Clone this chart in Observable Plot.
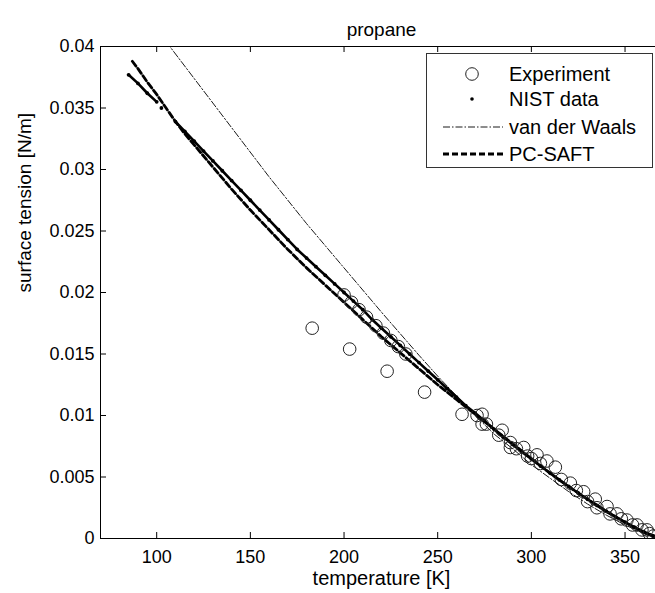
<!DOCTYPE html>
<html><head><meta charset="utf-8">
<script src="https://cdn.jsdelivr.net/npm/d3@7"></script>
<script src="https://cdn.jsdelivr.net/npm/@observablehq/plot@0.6"></script>
<style>
body{margin:0;background:#fff}
#c{position:relative;width:655px;height:593px;overflow:hidden;font-family:"Liberation Sans",Arial,sans-serif;background:#fff}
#legend{position:absolute;left:426px;top:53px;width:227px;height:115px;border:1px solid #333;background:#fff;box-sizing:border-box}
</style>
</head><body><div id="c"></div>
<script>
const chartTitle = "propane";
const xLabel = "temperature [K]";
const yLabel = "surface tension [N/m]";
const xTicks = [100,150,200,250,300,350];
const yTicks = [0,0.005,0.01,0.015,0.02,0.025,0.03,0.035,0.04];
const yTickLabels = ["0","0.005","0.01","0.015","0.02","0.025","0.03","0.035","0.04"];
const legendNames = ["Experiment","NIST data","van der Waals","PC-SAFT"];

// NIST data (segment id marks the gaps in the dotted curve)
const nistT = [85,90,95,100,102.5,110,115,120,125,130,135,140,145,150,155,160,165,170,175,180,185,190,195,200,205,210,215,220,225,230,235,240,245,250,255,260,265,270,275,280,285,290,295,300,305,310,315,320,325,330,335,340,345,350,355,360,365,369];
const nistS = [0.0377,0.0370,0.0362,0.0355,0.0350,0.0339,0.0331,0.0323,0.0315,0.0307,0.0299,0.0291,0.0283,0.0275,0.0267,0.0259,0.0251,0.0243,0.0235,0.0228,0.0221,0.0214,0.0207,0.0200,0.0193,0.0186,0.0178,0.0171,0.0164,0.0157,0.0150,0.0143,0.0136,0.0129,0.0122,0.0115,0.0108,0.0102,0.00955,0.0089,0.00824,0.00764,0.00704,0.00646,0.00588,0.00532,0.00476,0.00423,0.00370,0.00319,0.00269,0.00222,0.00176,0.00133,0.00092,0.00055,0.00022,0.00002];
const nistSeg = [1,1,1,1,2,3,3,3,3,3,3,3,3,3,3,3,3,3,3,3,3,3,3,3,3,3,3,3,3,3,3,3,3,3,3,3,3,3,3,3,3,3,3,3,3,3,3,3,3,3,3,3,3,3,3,3,3,3];

// van der Waals model
const vdwT = [105,120,140,160,180,200,220,240,250,260,270,280,290,300,310,320,330,340,350,360,366];
const vdwS = [0.0404,0.0374,0.0334,0.0294,0.0256,0.0220,0.0184,0.0149,0.0132,0.0116,0.0100,0.0085,0.0073,0.0060,0.0049,0.0038,0.0028,0.0019,0.0011,0.0004,0.0000];

// PC-SAFT model
const pcT = [87,90,95,100,105,110,115,120,130,140,150,160,170,180,190,200,210,220,230,240,250,260,270,280,290,300,310,320,330,340,350,360,365,369];
const pcS = [0.0388,0.0382,0.0371,0.0361,0.0350,0.0339,0.0329,0.0320,0.0302,0.0284,0.0267,0.0251,0.0235,0.0220,0.0206,0.0192,0.0178,0.0164,0.0151,0.0138,0.0125,0.0113,0.0101,0.0089,0.0077,0.0065,0.0053,0.0042,0.0032,0.0022,0.0013,0.0005,0.0002,0.0000];

// Experiment
const expT = [183,203,223,243,263,200,204,208,212,217,221,225,229,233,271,273.7,273.7,276,282.6,284.4,288.8,288.8,292,295.9,298,300,303,304.8,308.3,312.8,316,320.8,324,327.9,330,334.1,335,340.4,342,345.7,348,351,354,356.4,359,361.7,363,365.1];
const expS = [0.0171,0.0154,0.0136,0.0119,0.0101,0.0198,0.0192,0.0186,0.0180,0.0173,0.0167,0.0161,0.0156,0.0150,0.0100,0.0101,0.0093,0.0093,0.0084,0.0088,0.0078,0.0074,0.0073,0.0074,0.0067,0.0065,0.0068,0.0061,0.0063,0.0058,0.0048,0.0045,0.0039,0.0038,0.0030,0.0032,0.0025,0.0026,0.0020,0.0020,0.0016,0.0015,0.0011,0.0011,0.0007,0.0007,0.0004,0.0002];

const nist = nistT.map((t,i)=>({t, s:nistS[i], seg:nistSeg[i]}));
const vdw = vdwT.map((t,i)=>({t, s:vdwS[i]}));
const pc = pcT.map((t,i)=>({t, s:pcS[i]}));
const exp = expT.map((t,i)=>({t, s:expS[i]}));

const W = 655, H = 593, mL = 100, mR = -7, mT = 46, mB = 55;
const fw = W - mL - mR, fh = H - mT - mB;
const fs = 18, fl = 20;

const plot = Plot.plot({
  width: W, height: H,
  marginLeft: mL, marginRight: mR, marginTop: mT, marginBottom: mB,
  x: {domain: [70, 370]},
  y: {domain: [0, 0.04]},
  style: {fontFamily: '"Liberation Sans", Arial, sans-serif', fontSize: fs + "px", color: "#000", background: "#fff"},
  marks: [
    Plot.frame({stroke: "#000", strokeWidth: 1}),
    Plot.tickX(xTicks, {x: d => d, insetTop: fh - 6, stroke: "#000"}),
    Plot.tickX(xTicks, {x: d => d, insetBottom: fh - 6, stroke: "#000"}),
    Plot.tickY(yTicks, {y: d => d, insetRight: fw - 6, stroke: "#000"}),
    Plot.axisX(xTicks, {tickSize: 0, tickPadding: 12, label: null, fontSize: fs}),
    Plot.axisY(yTicks, {tickSize: 0, tickPadding: 6, label: null, fontSize: fs, tickFormat: d => yTickLabels[yTicks.indexOf(d)]}),
    Plot.line(vdw, {x: "t", y: "s", stroke: "#000", strokeWidth: 0.9, strokeDasharray: "7,2,1.5,2", clip: true}),
    Plot.line(nist, {x: "t", y: "s", z: "seg", stroke: "#000", strokeWidth: 2.6, clip: true}),
    Plot.dot(nist, {x: "t", y: "s", r: 1.9, fill: "#000", stroke: null, clip: true}),
    Plot.line(pc, {x: "t", y: "s", stroke: "#000", strokeWidth: 2.8, strokeDasharray: "6,3", clip: true}),
    Plot.dot(exp, {x: "t", y: "s", r: 6.3, stroke: "#222", strokeWidth: 1, fill: "none", clip: true}),
    Plot.text([chartTitle], {frameAnchor: "top", dy: -24, fontSize: 19}),
    Plot.text([xLabel], {frameAnchor: "bottom", dy: 46, fontSize: fl}),
    Plot.text([yLabel], {frameAnchor: "left", dx: -76, rotate: -90, fontSize: 19})
  ]
});
const c = document.getElementById("c");
c.appendChild(plot);

// legend
const lg = document.createElement("div");
lg.id = "legend";
const rows = [20, 45, 73, 100];
let s = `<svg width="225" height="113" style="display:block;font-family:'Liberation Sans',Arial,sans-serif">`;
s += `<circle cx="45" cy="${rows[0]}" r="6.3" fill="none" stroke="#222"/>`;
s += `<circle cx="45" cy="${rows[1]}" r="1.8" fill="#000"/>`;
s += `<line x1="16" x2="76" y1="${rows[2]}" y2="${rows[2]}" stroke="#000" stroke-width="0.9" stroke-dasharray="7,2,1.5,2"/>`;
s += `<line x1="16" x2="76" y1="${rows[3]}" y2="${rows[3]}" stroke="#000" stroke-width="2.8" stroke-dasharray="6,3"/>`;
legendNames.forEach((n,i)=>{ s += `<text x="82" y="${rows[i]}" dy="0.35em" font-size="20">${n}</text>`; });
s += `</svg>`;
lg.innerHTML = s;
c.appendChild(lg);
</script>
</body></html>
